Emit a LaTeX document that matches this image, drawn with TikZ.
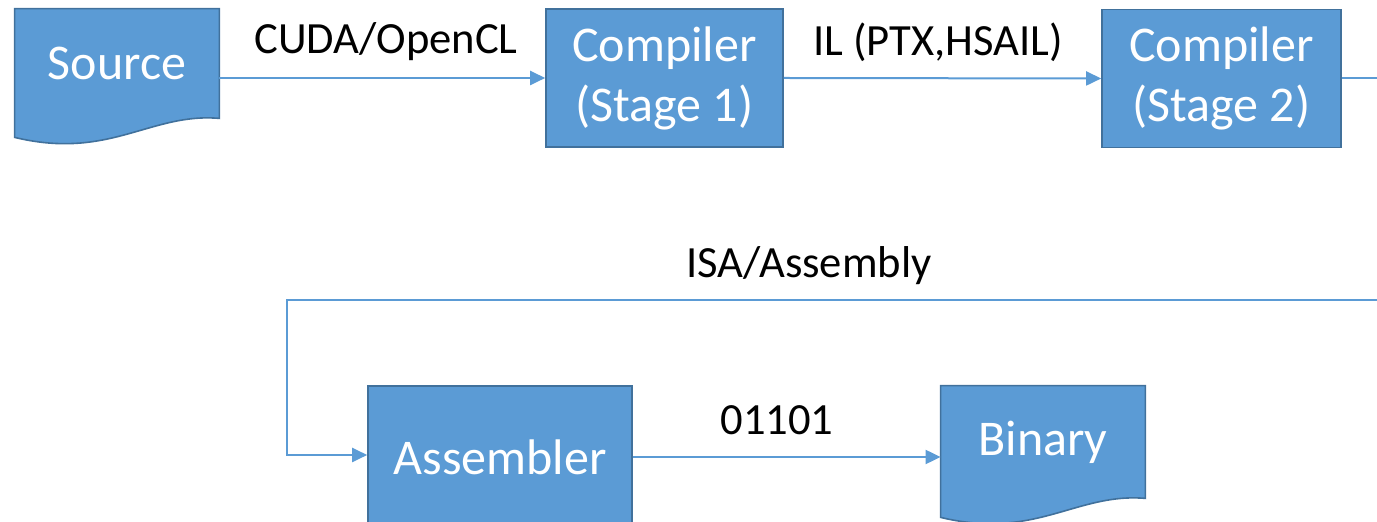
\documentclass[tikz,border=0pt]{standalone}
\usepackage{fontspec}
\setmainfont{Carlito}
\usetikzlibrary{arrows.meta,calc}
\definecolor{boxfill}{HTML}{5B9BD5}
\definecolor{boxline}{HTML}{41719C}
\definecolor{wire}{HTML}{5B9BD5}
\tikzset{
  stagebox/.style={draw=boxline, line width=0.8pt, fill=boxfill, text=white,
    align=center, inner sep=0pt, font=\fontsize{25}{30}\selectfont},
  docbox/.style={inner sep=0pt, text=white, font=\fontsize{25}{30}\selectfont},
  conn/.style={draw=wire, line width=1pt, -{Triangle[length=7.5pt,width=7pt]}},
  flowlabel/.style={inner sep=0pt, text=black, font=\fontsize{22.3}{26}\selectfont},
}
% document outline with a wavy lower edge around a docbox node
\newcommand{\docoutline}[1]{%
  \fill[boxfill, draw=boxline, line width=0.8pt]
    (#1.north west) -- (#1.north east) -- (#1.south east)
    .. controls ($(#1.south east)+(-69,-6)$) and ($(#1.south west)+(95,42)$)
    .. ($(#1.south west)+(0,19)$) -- cycle;}
\begin{document}
\begin{tikzpicture}[x=0.5pt,y=-0.5pt]
  \useasboundingbox (0,0) rectangle (1377,522);
  \clip (0,0) rectangle (1377,522);

  % document-shaped nodes
  \node[docbox, minimum width=102pt, minimum height=54.5pt] (src) at (117,63.5) {};
  \node[docbox, minimum width=102pt, minimum height=56pt] (bin) at (1043,442) {};
  \docoutline{src}
  \docoutline{bin}
  \node[docbox] (srctext) at (src) {Source};
  \node[docbox] (bintext) at (bin) {Binary};

  % processing stages
  \node[stagebox, minimum width=118.5pt, minimum height=69pt] (c1) at (664.5,78) {Compiler\\(Stage 1)};
  \node[stagebox, minimum width=119.5pt, minimum height=69pt] (c2) at (1221.5,78.5) {Compiler\\(Stage 2)};
  \node[stagebox, minimum width=132pt, minimum height=71pt] (asm) at (500,457) {Assembler};

  % routing points of the return path
  \coordinate (farright) at (1420,300);
  \coordinate (farleft) at (287,300);

  % connectors
  \draw[conn] (src.east |- c1.west) -- (c1.west);
  \draw[conn] (c1.east) -- (c2.west);
  \draw[conn] (c2.east) -| (farright) -- (farleft) |- ([yshift=1pt]asm.west);
  \draw[conn] (asm.east) -- (asm.east -| bin.west);

  % connector labels
  \node[flowlabel] (l1) at (386,42) {CUDA/OpenCL};
  \node[flowlabel] (l2) at (938,42) {IL (PTX,HSAIL)};
  \node[flowlabel] (l3) at (809,266) {ISA/Assembly};
  \node[flowlabel] (l4) at (777,420) {01101};
\end{tikzpicture}
\end{document}
